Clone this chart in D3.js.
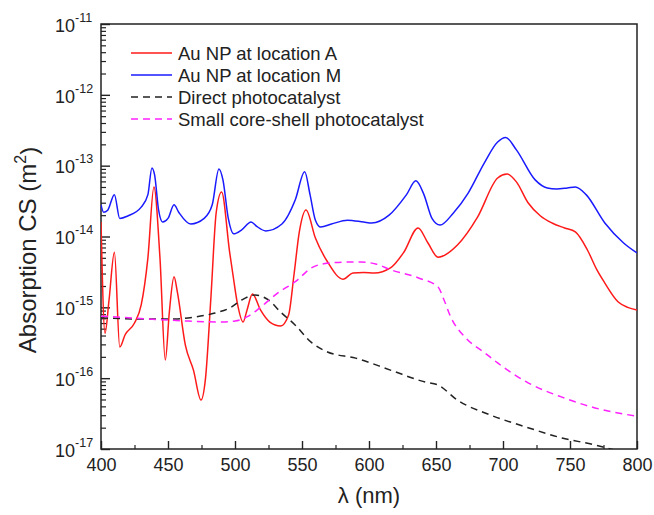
<!DOCTYPE html>
<html>
<head>
<meta charset="utf-8">
<script src="https://cdn.jsdelivr.net/npm/d3@7"></script>
<style>
  body { margin: 0; background: #fff; }
  svg text { font-family: "Liberation Sans", Arial, sans-serif; fill: #222; }
</style>
</head>
<body>
<svg id="chart" width="654" height="515"></svg>
<script>
// Absorption cross section (m^2) versus wavelength (nm)

// Au NP at location A
const lambdaA = [400, 403, 406, 410, 414, 418, 425, 430, 435, 439.5, 444, 448, 451, 454.5, 457, 463, 469, 474.6, 478, 482, 486, 490, 496, 498.5, 502, 506, 509, 513, 519, 526, 534, 540, 544, 548, 553, 560, 569, 580.6, 588, 596, 604, 616, 626, 636.6, 644, 651.5, 666, 681, 696, 703, 710, 718.7, 728, 736.6, 746, 754, 763, 770, 776, 786, 793, 800];
const csA = [1.6e-14, 4.3e-16, 1.27e-15, 6.0e-15, 2.75e-16, 4.1e-16, 6.0e-16, 1.08e-15, 5.0e-15, 5.0e-14, 5.0e-15, 1.8e-16, 8.6e-16, 2.7e-15, 1.64e-15, 2.9e-16, 1.3e-16, 4.9e-17, 1.0e-16, 1.35e-15, 2.2e-14, 4.25e-14, 6.0e-15, 2.86e-15, 1.08e-15, 6.2e-16, 9.2e-16, 1.54e-15, 9.2e-16, 6.2e-16, 5.45e-16, 7.8e-16, 2.86e-15, 1.16e-14, 2.37e-14, 9.5e-15, 4.4e-15, 2.5e-15, 3.05e-15, 3.1e-15, 3.05e-15, 3.6e-15, 6.0e-15, 1.32e-14, 8.1e-15, 5.1e-15, 7.6e-15, 1.88e-14, 6.7e-14, 7.6e-14, 5.9e-14, 3.0e-14, 1.95e-14, 1.55e-14, 1.32e-14, 1.16e-14, 6.45e-15, 3.4e-15, 2.2e-15, 1.19e-15, 1.0e-15, 9.2e-16];

// Au NP at location M
const lambdaM = [400, 402, 405, 410, 414, 420, 430, 435, 438, 440, 443, 446, 450, 454.5, 458, 467, 477, 483, 488, 491, 495, 499, 505, 512, 516, 523, 535, 545, 552, 556, 560, 564, 572, 584, 596, 602, 615, 628, 635, 641, 647, 653, 663, 674, 686, 696, 702, 710, 724, 733, 740, 748, 754, 762, 776, 790, 800];
const csM = [2.8e-14, 2.2e-14, 2.35e-14, 3.9e-14, 1.8e-14, 1.95e-14, 2.6e-14, 3.9e-14, 9.3e-14, 7.4e-14, 2.35e-14, 1.6e-14, 1.8e-14, 2.8e-14, 2.2e-14, 1.5e-14, 1.8e-14, 2.8e-14, 9.0e-14, 6.3e-14, 1.8e-14, 1.09e-14, 1.24e-14, 1.6e-14, 1.4e-14, 1.2e-14, 1.5e-14, 3.3e-14, 8.2e-14, 3.9e-14, 1.7e-14, 1.36e-14, 1.5e-14, 1.7e-14, 1.6e-14, 1.55e-14, 2.0e-14, 3.9e-14, 6.1e-14, 3.9e-14, 1.8e-14, 1.45e-14, 2.15e-14, 4.1e-14, 1.09e-13, 2.16e-13, 2.5e-13, 1.67e-13, 6.3e-14, 4.85e-14, 4.7e-14, 4.85e-14, 5.0e-14, 3.9e-14, 1.55e-14, 8.1e-15, 5.85e-15];

// Direct photocatalyst
const lambdaDirect = [400, 430, 455, 470, 485, 497, 505, 515, 525, 534, 545, 557, 569, 590, 616, 642, 651.5, 666, 691, 718.7, 744, 768.7, 780, 800];
const csDirect = [7.1e-16, 6.85e-16, 6.85e-16, 7.3e-16, 8.3e-16, 1.0e-15, 1.27e-15, 1.49e-15, 1.27e-15, 8.6e-16, 5.6e-16, 3.2e-16, 2.34e-16, 1.92e-16, 1.3e-16, 8.8e-17, 8.0e-17, 4.9e-17, 3.0e-17, 2.0e-17, 1.43e-17, 1.14e-17, 1.0e-17, 8.5e-18];

// Small core-shell photocatalyst
const lambdaShell = [400, 412, 435, 465, 490, 500, 510, 519, 532, 545, 557, 569, 582, 594, 605, 616, 637, 651.5, 656, 661, 671.6, 686.6, 696, 718.7, 744, 768.7, 800];
const csShell = [7.5e-16, 7.3e-16, 6.85e-16, 6.4e-16, 6.2e-16, 6.4e-16, 7.5e-16, 1.0e-15, 1.6e-15, 2.3e-15, 3.6e-15, 4.2e-15, 4.35e-15, 4.35e-15, 4.1e-15, 3.4e-15, 2.6e-15, 1.94e-15, 1.27e-15, 7.3e-16, 3.8e-16, 2.26e-16, 1.64e-16, 8.6e-17, 5.4e-17, 3.8e-17, 2.9e-17];

const seriesNames = ["Au NP at location A", "Au NP at location M", "Direct photocatalyst", "Small core-shell photocatalyst"];
const xTicks = [400, 450, 500, 550, 600, 650, 700, 750, 800];
const yExponents = [-17, -16, -15, -14, -13, -12, -11];

const series = [
  { name: seriesNames[0], x: lambdaA, y: csA, color: "#ff1a1a", dash: null },
  { name: seriesNames[1], x: lambdaM, y: csM, color: "#1a1aff", dash: null },
  { name: seriesNames[2], x: lambdaDirect, y: csDirect, color: "#222222", dash: "7,5" },
  { name: seriesNames[3], x: lambdaShell, y: csShell, color: "#ff22ff", dash: "7,5" }
];

const margin = { left: 101, top: 24, right: 17, bottom: 66 };
const W = 654, H = 515;
const iw = W - margin.left - margin.right;
const ih = H - margin.top - margin.bottom;

const svg = d3.select("#chart");
const g = svg.append("g").attr("transform", `translate(${margin.left},${margin.top})`);

const x = d3.scaleLinear().domain([400, 800]).range([0, iw]);
const y = d3.scaleLog().domain([1e-17, 1e-11]).range([ih, 0]);

g.append("clipPath").attr("id", "plot-clip")
  .append("rect").attr("width", iw).attr("height", ih);

// minor ticks
const xMinor = d3.range(425, 800, 50);
const yMinor = [];
yExponents.slice(0, -1).forEach(e => { for (let m = 2; m <= 9; m++) yMinor.push(m * Math.pow(10, e)); });

g.append("g").attr("transform", `translate(0,${ih})`)
  .call(d3.axisBottom(x).tickValues(xMinor).tickSizeInner(-4).tickSizeOuter(0).tickFormat(""))
  .call(a => a.select(".domain").remove())
  .call(a => a.selectAll("line").attr("stroke", "#222").attr("stroke-width", 1.2));

g.append("g")
  .call(d3.axisLeft(y).tickValues(yMinor).tickSizeInner(-5).tickSizeOuter(0).tickFormat(""))
  .call(a => a.select(".domain").remove())
  .call(a => a.selectAll("line").attr("stroke", "#222").attr("stroke-width", 1.2));

// major x axis
const xAxis = g.append("g").attr("transform", `translate(0,${ih})`)
  .call(d3.axisBottom(x).tickValues(xTicks).tickSizeInner(-8).tickSizeOuter(0).tickPadding(9).tickFormat(d3.format("d")));
xAxis.select(".domain").remove();
xAxis.selectAll("line").attr("stroke", "#222").attr("stroke-width", 1.4);
xAxis.selectAll("text").attr("font-size", 18).attr("fill", "#222");

// major y axis with power-of-ten labels
const yAxis = g.append("g")
  .call(d3.axisLeft(y).tickValues(yExponents.map(e => Math.pow(10, e))).tickSizeInner(-9).tickSizeOuter(0).tickFormat(""));
yAxis.select(".domain").remove();
yAxis.selectAll("line").attr("stroke", "#222").attr("stroke-width", 1.4);
yAxis.selectAll(".tick").each(function(d) {
  const t = d3.select(this).select("text")
    .attr("x", -46).attr("dy", "0.4em").attr("text-anchor", "start").attr("font-size", 18).attr("fill", "#222");
  t.text(null);
  t.append("tspan").text("10");
  t.append("tspan").attr("font-size", 12.5).attr("dy", "-0.8em").text(String(Math.round(Math.log10(d))));
});

// frame
g.append("rect").attr("width", iw).attr("height", ih)
  .attr("fill", "none").attr("stroke", "#222").attr("stroke-width", 1.5);

// curves
const line = d3.line().curve(d3.curveMonotoneX);
const plot = g.append("g").attr("clip-path", "url(#plot-clip)");
series.forEach(s => {
  plot.append("path")
    .attr("d", line(s.x.map((v, i) => [x(v), y(s.y[i])])))
    .attr("fill", "none")
    .attr("stroke", s.color)
    .attr("stroke-width", 1.5)
    .attr("stroke-dasharray", s.dash);
});

// legend
const legend = svg.append("g").attr("transform", "translate(131,53)");
series.forEach((s, i) => {
  const row = legend.append("g").attr("transform", `translate(0,${i * 22})`);
  row.append("line").attr("x1", 0).attr("x2", 41).attr("y1", 0).attr("y2", 0)
    .attr("stroke", s.color).attr("stroke-width", 1.5).attr("stroke-dasharray", s.dash);
  row.append("text").attr("x", 47).attr("y", 0).attr("dy", "0.36em")
    .attr("font-size", 18.5).attr("fill", "#222").text(s.name);
});

// axis titles
svg.append("text")
  .attr("x", margin.left + iw / 2).attr("y", 503)
  .attr("text-anchor", "middle").attr("font-size", 22).text("λ (nm)");

const yTitle = svg.append("text")
  .attr("transform", "translate(36,250) rotate(-90)")
  .attr("text-anchor", "middle").attr("font-size", 24);
yTitle.append("tspan").text("Absorption CS (m");
yTitle.append("tspan").attr("font-size", 16).attr("dy", "-0.6em").text("2");
yTitle.append("tspan").attr("dy", "0.45em").text(")");
</script>
</body>
</html>
